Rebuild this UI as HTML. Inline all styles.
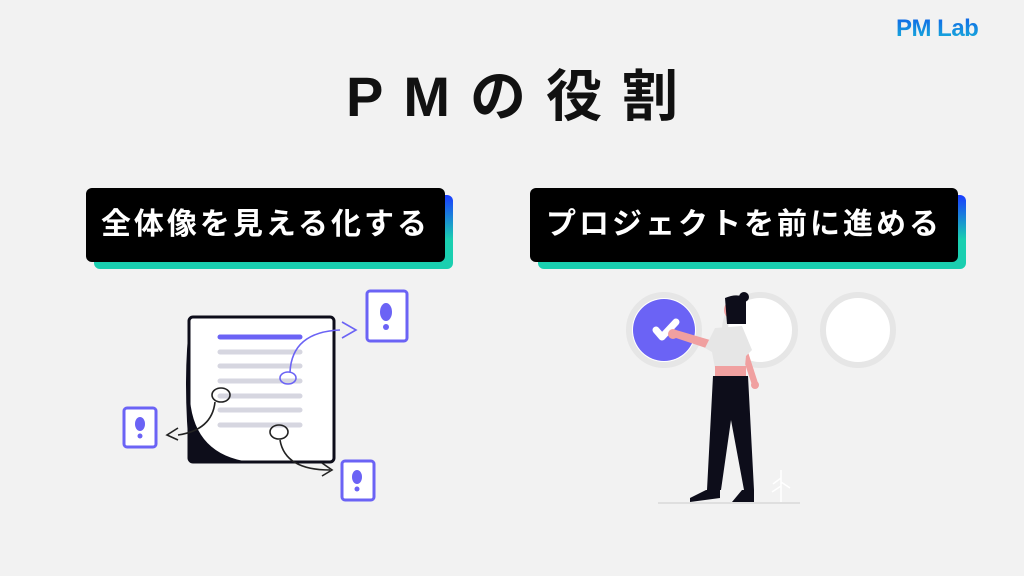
<!DOCTYPE html>
<html><head><meta charset="utf-8"><style>
body{margin:0;width:1024px;height:576px;background:#f2f2f2;position:relative;overflow:hidden;font-family:"Liberation Sans","Noto Sans CJK JP",sans-serif}
.t{position:absolute;left:0;width:1024px;top:52px;text-align:center;font-size:56px;font-weight:bold;letter-spacing:20px;text-indent:20px;color:#111}
.logo{position:absolute;left:896px;top:15px;font-size:24px;font-weight:900;color:#1a7ee0;background:linear-gradient(#1060e8,#18b8d8);-webkit-background-clip:text;background-clip:text;-webkit-text-fill-color:transparent;letter-spacing:-0.5px}
.sh{position:absolute;border-radius:6px;background:linear-gradient(180deg,#1a3cff 0%,#1acfb0 60%,#1acfb0 100%)}
.bx{position:absolute;background:#000;border-radius:6px;color:#fff;font-size:30px;font-weight:bold;text-align:center;line-height:74px;letter-spacing:3px}
</style></head><body>
<div class="logo">PM Lab</div>
<div class="t">PMの役割</div>
<div class="sh" style="left:94px;top:195px;width:359px;height:74px"></div>
<div class="bx" style="left:86px;top:188px;width:359px;height:74px">全体像を見える化する</div>
<div class="sh" style="left:538px;top:195px;width:428px;height:74px"></div>
<div class="bx" style="left:530px;top:188px;width:428px;height:74px">プロジェクトを前に進める</div>
<svg width="1024" height="576" style="position:absolute;left:0;top:0">
<path d="M190 318 Q182 380 190 460 L250 462 Q200 450 196 320 Z" fill="#0d0d1a"/>
<rect x="189" y="317" width="145" height="145" rx="4" fill="#fff" stroke="#0d0d1a" stroke-width="3"/>
<path d="M190 400 Q195 455 250 462 L190 462Z" fill="#0d0d1a"/>
<line x1="220" y1="337" x2="300" y2="337" stroke="#6b63f5" stroke-width="5" stroke-linecap="round"/>
<g stroke="#d6d6e0" stroke-width="5" stroke-linecap="round">
<line x1="220" y1="352" x2="300" y2="352"/><line x1="220" y1="366" x2="300" y2="366"/><line x1="220" y1="381" x2="300" y2="381"/><line x1="220" y1="396" x2="300" y2="396"/><line x1="220" y1="410" x2="300" y2="410"/><line x1="220" y1="425" x2="300" y2="425"/></g>
<g fill="none" stroke-width="1.6">
<ellipse cx="288" cy="378" rx="8" ry="6" stroke="#6b63f5"/>
<path d="M290 372 Q292 332 340 330" stroke="#6b63f5"/><path d="M342 322 L356 330 L342 338" stroke="#6b63f5"/>
<ellipse cx="221" cy="395" rx="9" ry="7" stroke="#222"/>
<path d="M215 402 Q212 430 178 435" stroke="#222"/><path d="M178 428 L167 435 L178 440" stroke="#222"/>
<ellipse cx="279" cy="432" rx="9" ry="7" stroke="#222"/>
<path d="M280 440 Q285 470 330 470" stroke="#222"/><path d="M322 463 L332 470 L322 476" stroke="#222"/>
</g>
<g fill="#fff" stroke="#6b63f5" stroke-width="3">
<rect x="367" y="291" width="40" height="50" rx="3"/><rect x="124" y="408" width="32" height="39" rx="3"/><rect x="342" y="461" width="32" height="39" rx="3"/></g>
<g fill="#6b63f5"><ellipse cx="386" cy="312" rx="6" ry="9"/><circle cx="386" cy="327" r="3"/><ellipse cx="140" cy="424" rx="5" ry="7"/><circle cx="140" cy="436" r="2.5"/><ellipse cx="357" cy="477" rx="5" ry="7"/><circle cx="357" cy="489" r="2.5"/></g>
<circle cx="664" cy="330" r="35" fill="#fff" stroke="#e6e6e6" stroke-width="6"/>
<circle cx="664" cy="330" r="31" fill="#6b63f5"/>
<path d="M656 330 L662 337 L676 322" fill="none" stroke="#fff" stroke-width="7" stroke-linecap="round" stroke-linejoin="round"/>
<circle cx="760" cy="330" r="35" fill="#fff" stroke="#e6e6e6" stroke-width="6"/>
<circle cx="858" cy="330" r="35" fill="#fff" stroke="#e6e6e6" stroke-width="6"/>
<line x1="658" y1="503" x2="800" y2="503" stroke="#ccc" stroke-width="1"/>
<path d="M781 502 L781 470 M781 478 L773 484 M781 486 L772 492 M781 482 L790 488" stroke="#fff" stroke-width="1.5" fill="none"/>
<circle cx="734" cy="310" r="10" fill="#f0a0a0"/>
<path d="M725 298 Q740 292 746 300 L746 324 L727 324Z" fill="#0d0d1a"/><circle cx="744" cy="297" r="5" fill="#0d0d1a"/>
<path d="M673 337 L706 348 L710 340 L676 330Z" fill="#f0a0a0"/><circle cx="673" cy="334" r="5" fill="#f0a0a0"/>
<path d="M742 355 L752 385 L758 383 L748 352Z" fill="#f0a0a0"/><circle cx="755" cy="385" r="4" fill="#f0a0a0"/>
<path d="M715 328 L742 326 L752 350 L746 356 L745 366 L715 368 L712 352 L705 348 Z" fill="#e6e6e6"/>
<rect x="715" y="366" width="31" height="10" fill="#f0a0a0"/>
<path d="M713 376 L748 376 L754 490 L744 490 L731 420 L721 490 L707 490 Z" fill="#0d0d1a"/>
<path d="M706 490 L720 490 L720 498 L690 502 L690 498Z" fill="#0d0d1a"/>
<path d="M742 490 L754 490 L754 502 L732 502Z" fill="#0d0d1a"/>
</svg>
</body></html>
